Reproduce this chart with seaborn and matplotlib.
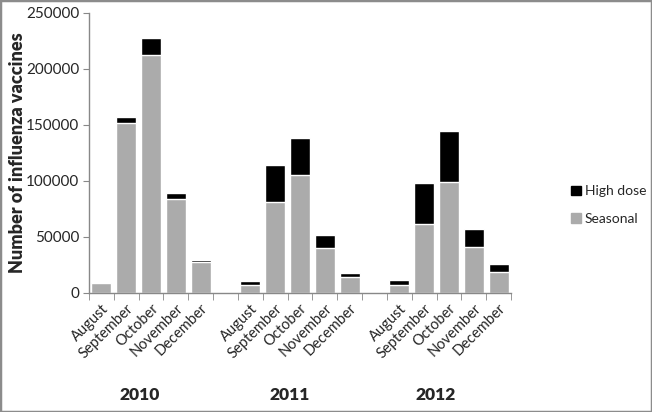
import matplotlib
matplotlib.use("Agg")
import matplotlib.pyplot as plt
import seaborn as sns
import pandas as pd
from matplotlib.patches import Patch, Rectangle

years = ["2010", "2011", "2012"]
months = ["August", "September", "October", "November", "December"]
seasonal = [8500, 151800, 212800, 84200, 27300,
            6800, 81300, 105000, 40200, 13900,
            7400, 61600, 99100, 41100, 19000]
high_dose = [0, 5400, 14900, 5400, 1800,
             3600, 33000, 33400, 11600, 3600,
             4500, 36600, 45200, 16100, 6900]

rows = []
for i, y in enumerate(years):
    for j, m in enumerate(months):
        k = i * 5 + j
        rows.append({"key": f"{y} {m}", "month": m,
                     "seasonal": seasonal[k],
                     "total": seasonal[k] + high_dose[k]})
df = pd.DataFrame(rows)

# category order with an empty slot between years
order = []
labels = []
for i, y in enumerate(years):
    order += [f"{y} {m}" for m in months]
    labels += months
    if i < len(years) - 1:
        order.append(f"gap{i}")
        labels.append("")

sns.set_style("white")
plt.rcParams["font.family"] = ["Lato", "DejaVu Sans"]

fig = plt.figure(figsize=(6.52, 4.12), dpi=100)
ax = fig.add_axes([89 / 652, 1 - 293 / 412, (511 - 89) / 652, (293 - 13) / 412])

sns.barplot(data=df, x="key", y="total", order=order, color="black",
            saturation=1, width=0.8, errorbar=None, ax=ax)
sns.barplot(data=df, x="key", y="seasonal", order=order, color="#ababab",
            saturation=1, width=0.8, errorbar=None, ax=ax)

ax.set_ylim(0, 250000)
ax.set_xlim(-0.5, len(order) - 0.5)
ax.set_yticks(range(0, 250001, 50000))
ax.tick_params(axis="y", labelsize=11, length=4, color="#888888", direction="out", left=True, pad=3)
ax.set_xticks(range(len(order)))
ax.set_xticklabels(labels, rotation=45, ha="right", rotation_mode="anchor", fontsize=10.5)
ax.tick_params(axis="x", which="major", length=0, pad=6)
ax.set_xticks([x - 0.5 for x in range(len(order) + 1)], minor=True)
ax.tick_params(axis="x", which="minor", length=5, color="#888888", direction="out", bottom=True)
ax.set_xlabel("")
ax.set_ylabel("Number of influenza vaccines", fontsize=13, fontweight="heavy")
ax.yaxis.set_label_coords((26 - 89) / 422, 0.5)

sns.despine(ax=ax)
for s in ["left", "bottom"]:
    ax.spines[s].set_color("#888888")
    ax.spines[s].set_linewidth(1)

for y, xp in zip(years, [140, 290, 436]):
    fig.text(xp / 652, 1 - 395 / 412, y, ha="center", va="center",
             fontsize=12.5, fontweight="heavy")

handles = [Patch(color="black", label="High dose"),
           Patch(color="#ababab", label="Seasonal")]
fig.legend(handles=handles, loc="center left", bbox_to_anchor=(571 / 652, 1 - 205 / 412),
           frameon=False, fontsize=10, handlelength=0.7, handleheight=0.7,
           handletextpad=0.3, labelspacing=1.1, borderpad=0, borderaxespad=0)

fig.patches.append(Rectangle((0, 0), 1, 1, transform=fig.transFigure, fill=False,
                             edgecolor="#8c8c8c", linewidth=2.5))

fig.savefig("out.png", dpi=100)
